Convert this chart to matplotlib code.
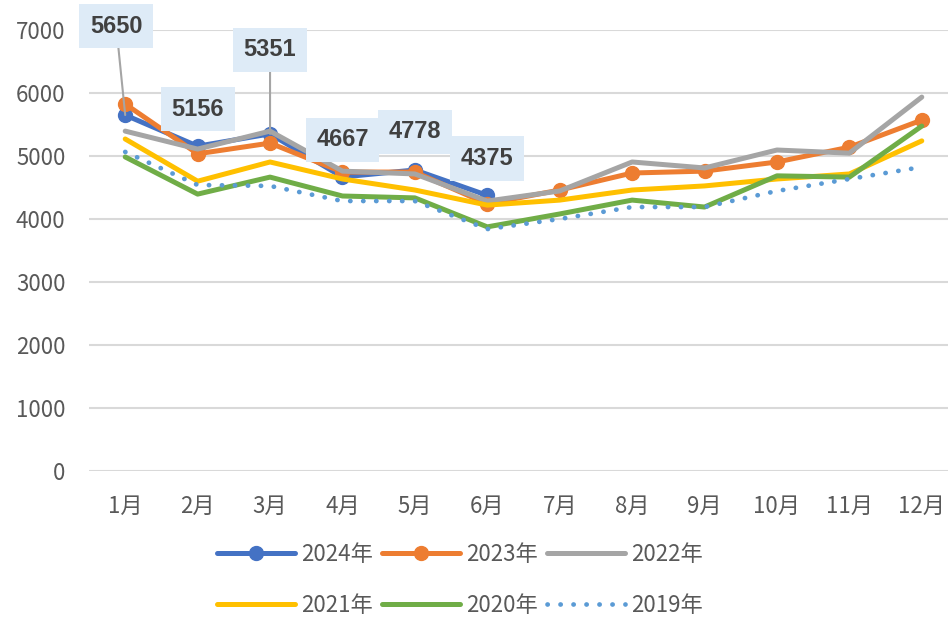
import matplotlib
matplotlib.use("Agg")
import matplotlib.pyplot as plt

plt.rcParams['font.family'] = ['Noto Sans CJK JP', 'DejaVu Sans']

# --- data ---
months = ["1月", "2月", "3月", "4月", "5月", "6月", "7月", "8月", "9月", "10月", "11月", "12月"]
series_names = ["2024年", "2023年", "2022年", "2021年", "2020年", "2019年"]

y2024 = [5650, 5156, 5351, 4667, 4778, 4375]
y2023 = [5825, 5035, 5205, 4745, 4745, 4240, 4460, 4730, 4760, 4905, 5140, 5570]
y2022 = [5395, 5110, 5395, 4760, 4715, 4285, 4445, 4905, 4810, 5095, 5045, 5935]
y2021 = [5270, 4600, 4905, 4635, 4460, 4220, 4300, 4460, 4525, 4635, 4715, 5240]
y2020 = [4985, 4395, 4665, 4365, 4335, 3875, 4080, 4300, 4190, 4685, 4665, 5475]
y2019 = [5065, 4540, 4525, 4285, 4285, 3840, 4000, 4190, 4190, 4445, 4635, 4825]

# label box offsets (pixels) for the 2024 data labels
label_offsets = [(-9, 89), (0, 37), (0, 84), (0, 37), (0, 38), (0, 37)]

colors = ["#4472C4", "#ED7D31", "#A5A5A5", "#FFC000", "#70AD47", "#5B9BD5"]

fig = plt.figure(figsize=(9.48, 6.22), dpi=100)
ax = fig.add_axes([89 / 948, 1 - 471 / 622, 869 / 948, 441 / 622])

x = list(range(len(months)))
all_series = [y2024, y2023, y2022, y2021, y2020, y2019]
lines = []
for i, (vals, name, c) in enumerate(zip(all_series, series_names, colors)):
    xs = x[:len(vals)]
    if i < 2:
        ln, = ax.plot(xs, vals, color=c, lw=3.6, marker='o', markersize=10,
                      label=name, zorder=3 + i, solid_capstyle='round')
    elif i == 5:
        ln, = ax.plot(xs, vals, color=c, lw=3.4, linestyle=(0, (0.05, 2.7)),
                      dash_capstyle='round', label=name, zorder=3 + i)
    else:
        ln, = ax.plot(xs, vals, color=c, lw=3.6, label=name, zorder=3 + i,
                      solid_capstyle='round')
    lines.append(ln)

# data labels on the 2024 series
for xi, v, off in zip(x, y2024, label_offsets):
    arrow = None
    if off[1] > 60:
        arrow = dict(arrowstyle='-', color='#A5A5A5', lw=1.5, shrinkA=0, shrinkB=0)
    ax.annotate(str(v), xy=(xi, v), xytext=off, textcoords='offset pixels',
                ha='center', va='center', fontsize=17, fontweight='bold',
                family=['Liberation Sans', 'DejaVu Sans'], color='#404040',
                bbox=dict(boxstyle='square,pad=0.45', fc='#DEEBF7', ec='none'),
                arrowprops=arrow, zorder=20, annotation_clip=False)

ax.set_xlim(-0.5, 11.5)
ax.set_ylim(0, 7000)
ax.set_yticks(range(0, 7001, 1000))
ax.set_xticks(x)
ax.set_xticklabels(months)
ax.grid(axis='y', color='#D9D9D9', lw=1.5)
ax.set_axisbelow(True)
for s in ax.spines.values():
    s.set_visible(False)
ax.tick_params(axis='both', length=0, labelsize=16, labelcolor='#595959')
ax.tick_params(axis='y', pad=17)
ax.tick_params(axis='x', pad=17)

# legend fills column by column, so reorder to read row by row
order = [0, 3, 1, 4, 2, 5]
leg = fig.legend([lines[k] for k in order], [series_names[k] for k in order],
                 loc='center', bbox_to_anchor=(460 / 948, 1 - 580 / 622), ncol=3,
                 frameon=False, fontsize=16, handlelength=3.5, handletextpad=0.3,
                 columnspacing=0.4, labelspacing=1.25)
for t in leg.get_texts():
    t.set_color('#595959')

fig.savefig("out.png", dpi=100)
